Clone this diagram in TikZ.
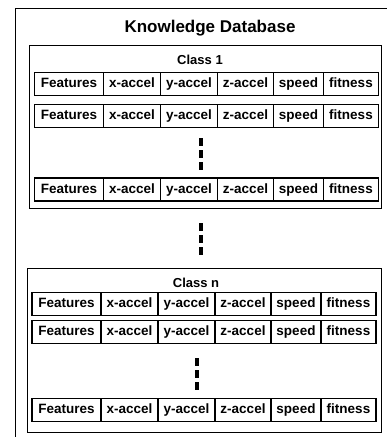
\documentclass[tikz,border=0pt]{standalone}
\usepackage{fontspec}
\setmainfont{Liberation Sans}
\usetikzlibrary{positioning}
\def\rowheight{23pt}

% one record: six cells side by side, named #1-1 ... #1-6
\newcommand{\featrow}[3]{%
    \node[cell, minimum width=69pt, anchor=west] (#1-1) at (#2,#3) {Features};
    \node[cell, minimum width=57pt, right=0pt of #1-1] (#1-2) {x-accel};
    \node[cell, minimum width=57pt, right=0pt of #1-2] (#1-3) {y-accel};
    \node[cell, minimum width=56pt, right=0pt of #1-3] (#1-4) {z-accel};
    \node[cell, minimum width=50pt, right=0pt of #1-4] (#1-5) {speed};
    \node[cell, minimum width=55pt, right=0pt of #1-5] (#1-6) {fitness};
}

\begin{document}
\begin{tikzpicture}[x=1pt, y=-1pt, node distance=0pt]
    \tikzstyle{cell}=[draw, line width=1.3pt, outer sep=0pt, inner sep=0pt, minimum height=\rowheight, text height=10pt, text depth=3pt, font=\bfseries\fontsize{13.5}{15}\selectfont]
    \tikzstyle{classbox}=[draw, line width=1pt, outer sep=0pt, inner sep=0pt]
    \tikzstyle{classtitle}=[font=\bfseries\fontsize{13}{15}\selectfont]
    \tikzstyle{dots}=[line width=3.5pt, dash pattern=on 8pt off 4pt]

    \useasboundingbox (0,0) rectangle (387,437);

    % outer frame, cut off at right and bottom
    \draw[line width=1pt] (15,437) -- (15,8) -- (387,8);
    \node[font=\bfseries\fontsize{17}{20}\selectfont] (title) at (210,28) {Knowledge Database};

    % class 1
    \node[classbox, minimum width=352pt, minimum height=163pt] (C1) at (205,126.5) {};
    \node[classtitle] (C1t) at (200,60) {Class 1};
    \featrow{A1}{34.5}{84}
    \featrow{A2}{34.5}{116}
    \featrow{A3}{34.5}{189.5}
    \coordinate (dA1) at (201,138);
    \coordinate (dA2) at (201,170);
    \draw[dots] (dA1) -- (dA2);

    % between classes
    \coordinate (dM1) at (201,223);
    \coordinate (dM2) at (201,255);
    \draw[dots] (dM1) -- (dM2);

    % class n
    \node[classbox, minimum width=354pt, minimum height=164pt] (Cn) at (204,350) {};
    \node[classtitle] (Cnt) at (196,283) {Class n};
    \featrow{N1}{32}{304}
    \featrow{N2}{32}{332}
    \featrow{N3}{32}{410}
    \coordinate (dN1) at (197,358);
    \coordinate (dN2) at (197,390);
    \draw[dots] (dN1) -- (dN2);
\end{tikzpicture}
\end{document}
